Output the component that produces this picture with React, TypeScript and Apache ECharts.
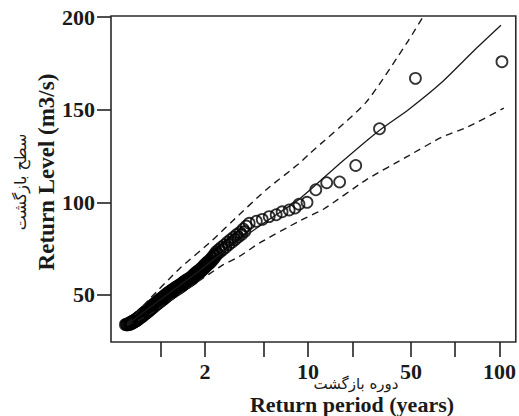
import React, { useEffect, useRef } from 'react';
import * as echarts from 'echarts';

// Axis ticks (return period, years) and their printed labels
const xTickValues = [1, 2, 5, 10, 20, 50, 100, 200];
const xTickLabels = ['', '2', '', '10', '', '50', '', '100'];
const yTickValues = [50, 100, 150, 200];

// Observed return levels (circles) - main sequence
const obsPeriod = [
  0.6, 0.615, 0.625, 0.635, 0.645, 0.655, 0.665, 0.675, 0.69, 0.7, 0.71, 0.725,
  0.74, 0.755, 0.77, 0.785, 0.8, 0.815, 0.83, 0.845,
  0.86, 0.875, 0.89, 0.91, 0.93, 0.95, 0.97, 0.99,
  1.01, 1.03, 1.05, 1.07, 1.09, 1.11, 1.13, 1.155,
  1.18, 1.2, 1.23, 1.26, 1.29, 1.32, 1.35,
  1.38, 1.41, 1.44, 1.47, 1.51, 1.55, 1.58,
  1.62, 1.66, 1.7, 1.74, 1.79, 1.84,
  1.89, 1.94, 1.99, 2.04, 2.09, 2.15,
  2.21, 2.27, 2.33, 2.39,
  2.48, 2.58, 2.7, 2.83, 2.97, 3.12, 3.28, 3.45, 3.63, 3.81, 3.99,
  4.46, 4.89, 5.45, 6.08, 6.67, 7.45, 8.17, 8.69, 9.85, 11.3, 13.4, 16.4, 21.1, 30.6, 53.7, 207.8,
];
const obsLevel = [
  34.6, 35.0, 35.3, 35.6, 35.9, 36.2, 36.5, 36.9, 37.3, 37.8, 38.2, 38.7,
  39.3, 40.0, 40.6, 41.1, 41.6, 42.2, 42.7, 43.3,
  43.8, 44.4, 44.9, 45.5, 46.2, 46.8, 47.3, 47.9,
  48.4, 48.9, 49.5, 50.0, 50.5, 51.0, 51.4, 52.0,
  52.5, 53.0, 53.5, 54.1, 54.6, 55.1, 55.6,
  56.1, 56.7, 57.2, 57.8, 58.4, 58.9, 59.3,
  60.0, 60.8, 61.6, 62.3, 63.0, 63.8,
  64.6, 65.5, 66.4, 67.2, 68.0, 68.9,
  69.9, 71.0, 72.2, 73.4,
  74.5, 75.8, 77.0, 78.5, 79.8, 81.2, 82.6, 83.9, 85.6, 87.2, 88.7,
  89.8, 90.8, 92.3, 93.3, 94.9, 95.9, 96.9, 99.0, 100.0, 106.8, 110.6, 111.0, 119.9, 139.7, 166.9, 175.9,
];

// Observed return levels (circles) - the dense low band, read along its lower edge
const densePeriod = [
  0.575, 0.585, 0.59, 0.607, 0.62, 0.63, 0.64, 0.65, 0.66, 0.67, 0.68, 0.695, 0.705, 0.715, 0.73,
  0.748, 0.762, 0.777, 0.792, 0.807, 0.822, 0.837, 0.852,
  0.868, 0.882, 0.9, 0.92, 0.94, 0.96, 0.98, 1.0,
  1.02, 1.04, 1.06, 1.08, 1.1, 1.12, 1.142, 1.167,
  1.19, 1.215, 1.245, 1.275, 1.305, 1.335, 1.365,
  1.395, 1.425, 1.455, 1.49, 1.53, 1.565, 1.6,
  1.64, 1.68, 1.72, 1.765, 1.815, 1.865,
  1.915, 1.965, 2.015, 2.065, 2.12, 2.18,
  2.24, 2.3, 2.36, 2.43,
  2.53, 2.64, 2.76, 2.9, 3.04, 3.2, 3.36, 3.54, 3.72,
];
const denseLevel = [
  34.0, 34.3, 33.8, 34.0, 34.2, 34.5, 34.8, 35.0, 35.4, 35.7, 36.0, 36.4, 36.9, 37.3, 37.7,
  38.3, 38.9, 39.5, 40.0, 40.5, 41.0, 41.5, 42.0,
  42.6, 43.1, 43.6, 44.3, 44.9, 45.5, 46.0, 46.6,
  47.1, 47.6, 48.2, 48.7, 49.2, 49.7, 50.2, 50.7,
  51.2, 51.7, 52.2, 52.8, 53.3, 53.8, 54.3,
  54.8, 55.4, 55.9, 56.5, 57.1, 57.6, 58.1,
  58.7, 59.5, 60.3, 61.0, 61.7, 62.5,
  63.3, 64.2, 65.1, 65.9, 66.7, 67.6,
  68.6, 69.7, 70.9, 72.1,
  73.2, 74.5, 75.7, 77.2, 78.5, 79.9, 81.3, 82.6, 84.3,
];

// Fitted return level curve (solid)
const fitPeriod = [0.589, 0.985, 1.57, 2.39, 3.42, 5.45, 8.69, 17.0, 30.2, 48.1, 80.4, 136.5, 204.6];
const fitLevel = [34.0, 47.3, 59.1, 70.3, 79.5, 90.8, 101.6, 121.9, 138.5, 150.0, 164.5, 182.5, 195.6];

// Upper confidence bound (dashed)
const upperPeriod = [0.589, 0.843, 1.34, 2.24, 3.06, 5.2, 8.69, 10.2, 24.7, 48.1, 60.8];
const upperLevel = [34.5, 48.0, 64.2, 79.5, 89.8, 106.8, 120.9, 126.1, 153.8, 187.3, 200.4];

// Lower confidence bound (dashed)
const lowerPeriod = [0.589, 0.843, 1.34, 2.58, 3.42, 4.67, 8.69, 12.8, 24.7, 48.1, 80.4, 122.4, 214];
const lowerLevel = [33.5, 39.6, 50.4, 65.7, 70.8, 78.0, 89.8, 96.4, 112.0, 125.1, 135.0, 140.8, 150.8];

const zip = (a: number[], b: number[]) => a.map((v, i) => [v, b[i]]);

const labelFor = (v: number) => {
  let best = 0;
  let bd = Infinity;
  xTickValues.forEach((t, i) => {
    const d = Math.abs(Math.log10(t) - Math.log10(v));
    if (d < bd) {
      bd = d;
      best = i;
    }
  });
  return xTickLabels[best];
};

const serif = 'Liberation Serif';
const ink = '#1a1a1a';

export default function App() {
  const ref = useRef<HTMLDivElement>(null);
  useEffect(() => {
    if (!ref.current) return;
    const chart = echarts.init(ref.current, null, { renderer: 'svg' });
    const dashed = { color: ink, width: 1.4, type: [7, 5] as any };
    chart.setOption({
      animation: false,
      backgroundColor: '#ffffff',
      grid: {
        left: 111,
        top: 16,
        width: 407,
        height: 326,
        show: true,
        borderColor: '#2a2a2a',
        borderWidth: 1.6,
        backgroundColor: 'transparent',
      },
      xAxis: {
        type: 'log',
        logBase: 10,
        min: 0.459,
        max: 258,
        axisLine: { show: false },
        splitLine: { show: false },
        axisTick: {
          show: true,
          inside: false,
          length: 15,
          customValues: xTickValues,
          lineStyle: { color: '#222', width: 1.6 },
        },
        axisLabel: {
          customValues: xTickValues.filter((_, i) => xTickLabels[i] !== ''),
          formatter: (v: number) => labelFor(v),
          fontFamily: serif,
          fontWeight: 'bold',
          fontSize: 22,
          color: ink,
          margin: 18,
        },
      },
      yAxis: {
        type: 'value',
        min: 24.64,
        max: 200.54,
        axisLine: { show: false },
        splitLine: { show: false },
        axisTick: {
          show: true,
          inside: false,
          length: 14,
          customValues: yTickValues,
          lineStyle: { color: '#222', width: 1.6 },
        },
        axisLabel: {
          customValues: yTickValues,
          fontFamily: serif,
          fontWeight: 'bold',
          fontSize: 22,
          color: ink,
          margin: 16,
        },
      },
      series: [
        {
          type: 'scatter',
          data: zip(densePeriod, denseLevel).concat(zip(obsPeriod, obsLevel)),
          symbol: 'circle',
          symbolSize: 11,
          itemStyle: { color: 'rgba(0,0,0,0)', borderColor: '#000', borderWidth: 1.8 },
          z: 2,
        },
        {
          type: 'line',
          data: zip(fitPeriod, fitLevel),
          showSymbol: false,
          smooth: 0.2,
          lineStyle: { color: ink, width: 1.3 },
          z: 3,
        },
        {
          type: 'line',
          data: zip(upperPeriod, upperLevel),
          showSymbol: false,
          smooth: 0.2,
          lineStyle: dashed,
          z: 3,
        },
        {
          type: 'line',
          data: zip(lowerPeriod, lowerLevel),
          showSymbol: false,
          smooth: 0.2,
          lineStyle: dashed,
          z: 3,
        },
      ],
      graphic: [
        {
          type: 'text',
          x: 20,
          y: 182,
          rotation: Math.PI / 2,
          style: {
            text: 'سطح بازگشت',
            fontFamily: 'DejaVu Sans',
            fontSize: 16,
            fill: ink,
            align: 'center',
            verticalAlign: 'middle',
          },
        },
        {
          type: 'text',
          x: 46,
          y: 172,
          rotation: Math.PI / 2,
          style: {
            text: 'Return Level (m3/s)',
            fontFamily: serif,
            fontWeight: 'bold',
            fontSize: 23,
            fill: ink,
            align: 'center',
            verticalAlign: 'middle',
          },
        },
        {
          type: 'text',
          x: 356,
          y: 384,
          style: {
            text: 'دوره بازگشت',
            fontFamily: 'DejaVu Sans',
            fontSize: 15,
            fill: ink,
            align: 'center',
            verticalAlign: 'middle',
          },
        },
        {
          type: 'text',
          x: 352,
          y: 404,
          style: {
            text: 'Return period (years)',
            fontFamily: serif,
            fontWeight: 'bold',
            fontSize: 22,
            fill: ink,
            align: 'center',
            verticalAlign: 'middle',
          },
        },
      ],
    });
    return () => chart.dispose();
  }, []);
  return (
    <div
      ref={ref}
      style={{ position: 'fixed', left: 0, top: 0, width: 519, height: 416, background: '#fff' }}
    />
  );
}
